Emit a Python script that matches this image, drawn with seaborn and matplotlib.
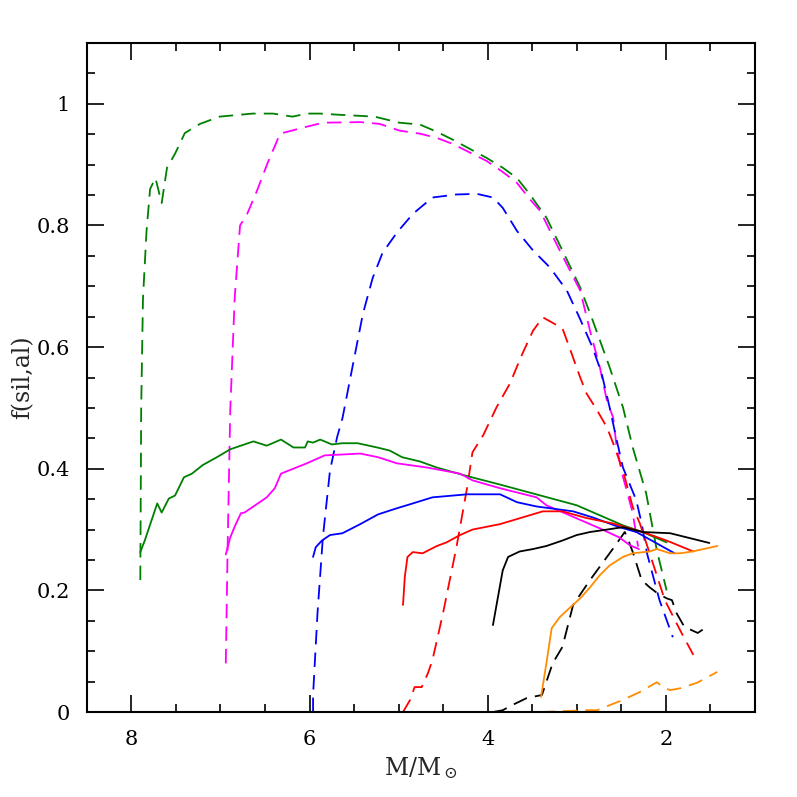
import numpy as np
import pandas as pd
import matplotlib
matplotlib.use('Agg')
import matplotlib.pyplot as plt
from matplotlib.ticker import MultipleLocator
import seaborn as sns

# Dashed curves
gd_x = [7.90, 7.89, 7.87, 7.83, 7.79, 7.73, 7.66, 7.60, 7.51, 7.40, 7.23, 7.01, 6.64, 6.41, 6.19, 6.03,
        5.88, 5.66, 5.40, 5.27, 4.99, 4.76, 4.57, 4.39, 4.20, 4.01, 3.83, 3.67, 3.53, 3.34, 3.16, 2.96,
        2.82, 2.63, 2.48, 2.37, 2.22, 2.10, 1.99]
gd_y = [0.217, 0.501, 0.68, 0.791, 0.860, 0.878, 0.837, 0.895, 0.918, 0.952, 0.967, 0.979, 0.984, 0.984,
        0.979, 0.984, 0.984, 0.982, 0.980, 0.979, 0.969, 0.966, 0.954, 0.941, 0.926, 0.911, 0.895, 0.878,
        0.852, 0.813, 0.759, 0.698, 0.644, 0.567, 0.501, 0.435, 0.360, 0.266, 0.200]

md_x = [6.94, 6.92, 6.89, 6.84, 6.78, 6.70, 6.59, 6.47, 6.33, 6.07, 5.85, 5.43, 5.21, 4.99, 4.76, 4.57,
        4.39, 4.20, 4.01, 3.83, 3.67, 3.53, 3.41, 3.19, 2.96, 2.85, 2.74, 2.66, 2.59, 2.55, 2.49, 2.43,
        2.37, 2.31]
md_y = [0.080, 0.266, 0.496, 0.681, 0.800, 0.819, 0.857, 0.903, 0.951, 0.961, 0.969, 0.970, 0.967, 0.956,
        0.951, 0.944, 0.934, 0.920, 0.906, 0.888, 0.870, 0.844, 0.824, 0.759, 0.693, 0.627, 0.567, 0.512,
        0.484, 0.435, 0.392, 0.360, 0.327, 0.272]

bd_x = [5.96, 5.96, 5.91, 5.85, 5.77, 5.69, 5.63, 5.51, 5.40, 5.29, 5.18, 5.02, 4.84, 4.62, 4.35, 4.12,
        3.94, 3.83, 3.67, 3.49, 3.30, 3.11, 2.97, 2.82, 2.72, 2.63, 2.55, 2.48, 2.33, 2.27, 2.21, 2.07, 1.92]
bd_y = [0.0, 0.028, 0.163, 0.287, 0.397, 0.452, 0.483, 0.573, 0.655, 0.714, 0.755, 0.788, 0.819, 0.846,
        0.851, 0.852, 0.846, 0.829, 0.791, 0.759, 0.731, 0.693, 0.649, 0.599, 0.557, 0.501, 0.447, 0.402,
        0.348, 0.310, 0.261, 0.184, 0.123]

rd_x = [4.95, 4.87, 4.82, 4.74, 4.67, 4.62, 4.50, 4.35, 4.23, 4.17, 4.05, 3.90, 3.75, 3.61, 3.49, 3.38,
        3.16, 3.08, 2.96, 2.89, 2.77, 2.66, 2.59, 2.48, 2.37, 2.29, 2.18, 2.01, 1.84, 1.69]
rd_y = [0.0, 0.020, 0.041, 0.041, 0.064, 0.085, 0.163, 0.271, 0.369, 0.427, 0.455, 0.501, 0.540, 0.589,
        0.627, 0.649, 0.631, 0.599, 0.550, 0.524, 0.496, 0.468, 0.442, 0.397, 0.337, 0.310, 0.261, 0.184,
        0.135, 0.094]

kd_x = [3.94, 3.83, 3.73, 3.56, 3.39, 3.27, 3.16, 3.04, 2.85, 2.71, 2.59, 2.46, 2.43, 2.37, 2.27, 2.18,
        2.09, 1.99, 1.93, 1.88, 1.79, 1.64, 1.54]
kd_y = [0.0, 0.003, 0.011, 0.023, 0.028, 0.080, 0.107, 0.176, 0.217, 0.245, 0.269, 0.296, 0.287, 0.263,
        0.217, 0.205, 0.195, 0.187, 0.184, 0.163, 0.140, 0.130, 0.140]

od_x = [3.41, 2.89, 2.77, 2.48, 2.29, 2.10, 2.03, 1.95, 1.84, 1.65, 1.42]
od_y = [0.0, 0.003, 0.003, 0.020, 0.033, 0.049, 0.041, 0.036, 0.039, 0.048, 0.066]

# Solid curves
gs_x = [7.90, 7.85, 7.71, 7.66, 7.58, 7.51, 7.41, 7.32, 7.20, 7.04, 6.89, 6.63, 6.48, 6.32, 6.18, 6.05,
        6.02, 5.96, 5.88, 5.83, 5.75, 5.63, 5.46, 5.24, 5.10, 4.96, 4.76, 4.57, 4.23, 3.86, 3.00, 2.48,
        2.26, 1.99]
gs_y = [0.263, 0.282, 0.343, 0.328, 0.351, 0.356, 0.386, 0.392, 0.406, 0.419, 0.432, 0.445, 0.438, 0.448,
        0.435, 0.435, 0.445, 0.443, 0.448, 0.445, 0.440, 0.442, 0.442, 0.435, 0.430, 0.419, 0.412, 0.402,
        0.388, 0.374, 0.340, 0.307, 0.296, 0.279]

ms_x = [6.94, 6.89, 6.84, 6.77, 6.73, 6.48, 6.39, 6.32, 6.03, 5.83, 5.43, 5.23, 5.02, 4.68, 4.31, 4.17,
        3.86, 3.45, 3.34, 2.74, 2.52, 2.40, 2.30]
ms_y = [0.259, 0.287, 0.305, 0.327, 0.328, 0.353, 0.368, 0.392, 0.409, 0.422, 0.425, 0.419, 0.409, 0.402,
        0.392, 0.381, 0.368, 0.353, 0.340, 0.302, 0.287, 0.274, 0.268]

bs_x = [5.96, 5.93, 5.86, 5.77, 5.63, 5.43, 5.23, 5.02, 4.84, 4.62, 4.23, 3.86, 3.67, 3.45, 3.04, 2.82,
        2.52, 2.33, 1.90]
bs_y = [0.255, 0.271, 0.282, 0.291, 0.294, 0.309, 0.325, 0.335, 0.343, 0.353, 0.358, 0.358, 0.345, 0.338,
        0.330, 0.320, 0.304, 0.296, 0.261]

rs_x = [4.95, 4.93, 4.90, 4.84, 4.73, 4.57, 4.46, 4.31, 4.17, 3.86, 3.38, 3.16, 2.89, 2.59, 2.26, 1.99, 1.69]
rs_y = [0.176, 0.222, 0.255, 0.263, 0.261, 0.273, 0.279, 0.291, 0.300, 0.309, 0.330, 0.330, 0.319, 0.310,
        0.296, 0.282, 0.264]

ks_x = [3.94, 3.89, 3.83, 3.77, 3.64, 3.49, 3.34, 3.16, 3.00, 2.85, 2.66, 2.48, 2.26, 1.95, 1.73, 1.51]
ks_y = [0.143, 0.184, 0.233, 0.255, 0.264, 0.268, 0.273, 0.282, 0.291, 0.296, 0.300, 0.304, 0.296, 0.294,
        0.286, 0.278]

os_x = [3.40, 3.34, 3.28, 3.19, 3.08, 2.96, 2.85, 2.74, 2.63, 2.48, 2.37, 2.18, 2.10, 1.95, 1.84, 1.70, 1.42]
os_y = [0.025, 0.080, 0.138, 0.156, 0.171, 0.187, 0.205, 0.225, 0.241, 0.255, 0.261, 0.264, 0.268, 0.261,
        0.261, 0.264, 0.273]

curves = [
    (gd_x, gd_y, 'green', True), (md_x, md_y, '#ff00ff', True), (bd_x, bd_y, 'blue', True),
    (rd_x, rd_y, 'red', True), (kd_x, kd_y, 'black', True), (od_x, od_y, '#ff8c00', True),
    (gs_x, gs_y, 'green', False), (ms_x, ms_y, '#ff00ff', False), (bs_x, bs_y, 'blue', False),
    (rs_x, rs_y, 'red', False), (ks_x, ks_y, 'black', False), (os_x, os_y, '#ff8c00', False),
]

sns.set_theme(style='ticks')
plt.rcParams['font.family'] = ['DejaVu Serif']
plt.rcParams['mathtext.fontset'] = 'dejavuserif'

fig = plt.figure(figsize=(7.97, 7.97), dpi=100)
ax = fig.add_axes([0.109, 0.1066, 0.838, 0.8394])

for xs, ys, col, dashed in curves:
    df = pd.DataFrame({'x': xs, 'y': ys})
    ls = (0, (8, 4.5)) if dashed else '-'
    sns.lineplot(data=df, x='x', y='y', sort=False, estimator=None, color=col,
                 linewidth=1.3, linestyle=ls, ax=ax)

ax.set_xlim(8.5, 1.0)
ax.set_ylim(0, 1.1)
ax.xaxis.set_minor_locator(MultipleLocator(0.5))
ax.yaxis.set_minor_locator(MultipleLocator(0.05))
ax.set_yticks([0, 0.2, 0.4, 0.6, 0.8, 1.0])
ax.set_yticklabels(['0', '0.2', '0.4', '0.6', '0.8', '1'])
ax.set_xticks([8, 6, 4, 2])
ax.set_xticklabels(['8', '6', '4', '2'])

ax.tick_params(which='both', direction='in', top=True, right=True, width=1.2, colors='black')
ax.tick_params(which='major', length=12, labelsize=15)
ax.tick_params(axis='x', which='major', pad=13)
ax.tick_params(axis='y', which='major', pad=12)
ax.tick_params(which='minor', length=6)
for s in ax.spines.values():
    s.set_linewidth(1.5)
    s.set_color('black')

ax.set_xlabel(r'M/M$_\odot$', fontsize=17, labelpad=4)
ax.set_ylabel('f(sil,al)', fontsize=17, labelpad=2)

fig.savefig('out.png', dpi=100)
